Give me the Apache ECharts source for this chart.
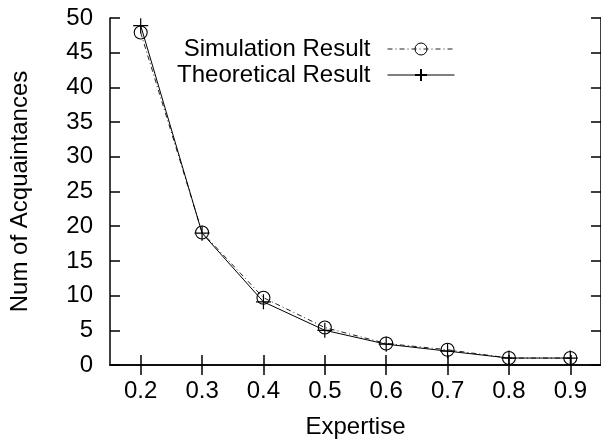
<!DOCTYPE html>
<html>
<head>
<meta charset="utf-8">
<script src="https://cdn.jsdelivr.net/npm/echarts@6/dist/echarts.min.js"></script>
<style>
  html, body { margin: 0; padding: 0; background: #fff; }
  #chart { width: 601px; height: 447px; }
</style>
</head>
<body>
<div id="chart"></div>
<script>
// Expertise levels on the x axis
const expertise = ['0.2', '0.3', '0.4', '0.5', '0.6', '0.7', '0.8', '0.9'];
// Number of acquaintances per expertise level
const simulationResult = [47.9, 19.1, 9.7, 5.4, 3.1, 2.2, 1.0, 1.0];
const theoreticalResult = [48.9, 19.0, 9.1, 5.0, 3.0, 2.0, 1.0, 1.0];

const FONT = '"Liberation Sans", Arial, Helvetica, sans-serif';
const FS = 24;
const plus = 'path://M0,-10L0,10M-10,0L10,0';

const chart = echarts.init(document.getElementById('chart'), null, { renderer: 'canvas' });

const axisLine = { show: true, lineStyle: { color: '#000', width: 1.5 } };
const tick = { show: true, inside: true, length: 10, lineStyle: { color: '#000', width: 1.5 } };

chart.setOption({
  animation: false,
  backgroundColor: '#fff',
  grid: { left: 110, top: 18, width: 492, height: 347, containLabel: false },
  legend: {
    right: 141,
    top: 32,
    orient: 'vertical',
    align: 'right',
    itemWidth: 67,
    itemHeight: 15,
    itemGap: 2,
    textStyle: { fontFamily: FONT, fontSize: FS, color: '#000', padding: [0, 12, 0, 0] },
    data: [
      { name: 'Simulation Result', lineStyle: { width: 1 }, itemStyle: { borderWidth: 1 } },
      { name: 'Theoretical Result', lineStyle: { width: 1 } }
    ]
  },
  xAxis: [
    {
      type: 'category',
      data: expertise,
      boundaryGap: true,
      position: 'bottom',
      name: 'Expertise',
      nameLocation: 'middle',
      nameGap: 50,
      nameTextStyle: { fontFamily: FONT, fontSize: FS, color: '#000' },
      axisLine: axisLine,
      axisTick: Object.assign({ alignWithLabel: true }, tick),
      axisLabel: { fontFamily: FONT, fontSize: FS, color: '#000', margin: 14 },
      splitLine: { show: false }
    },
    {
      type: 'category',
      data: expertise,
      boundaryGap: true,
      position: 'top',
      axisLine: axisLine,
      axisTick: Object.assign({ alignWithLabel: true }, tick),
      axisLabel: { show: false },
      splitLine: { show: false }
    }
  ],
  yAxis: [
    {
      type: 'value',
      min: 0,
      max: 50,
      interval: 5,
      position: 'left',
      name: 'Num of Acquaintances',
      nameLocation: 'middle',
      nameGap: 78,
      nameRotate: 90,
      nameTextStyle: { fontFamily: FONT, fontSize: FS, color: '#000' },
      axisLine: axisLine,
      axisTick: tick,
      axisLabel: { fontFamily: FONT, fontSize: FS, color: '#000', margin: 17 },
      splitLine: { show: false }
    },
    {
      type: 'value',
      min: 0,
      max: 50,
      interval: 5,
      position: 'right',
      axisLine: axisLine,
      axisTick: tick,
      axisLabel: { show: false },
      splitLine: { show: false }
    }
  ],
  series: [
    {
      name: 'Simulation Result',
      type: 'line',
      data: simulationResult,
      symbol: 'circle',
      symbolSize: 13,
      showAllSymbol: true,
      lineStyle: { color: '#222', width: 1, type: [5, 3, 1, 3] },
      itemStyle: { color: 'rgba(0,0,0,0)', borderColor: '#000', borderWidth: 1.1 },
      z: 2
    },
    {
      name: 'Theoretical Result',
      type: 'line',
      data: theoreticalResult,
      symbol: plus,
      symbolSize: 15,
      showAllSymbol: true,
      lineStyle: { color: '#000', width: 1, type: 'solid' },
      itemStyle: { color: 'rgba(0,0,0,0)', borderColor: '#000', borderWidth: 1.2 },
      z: 3
    }
  ]
});
</script>
</body>
</html>
